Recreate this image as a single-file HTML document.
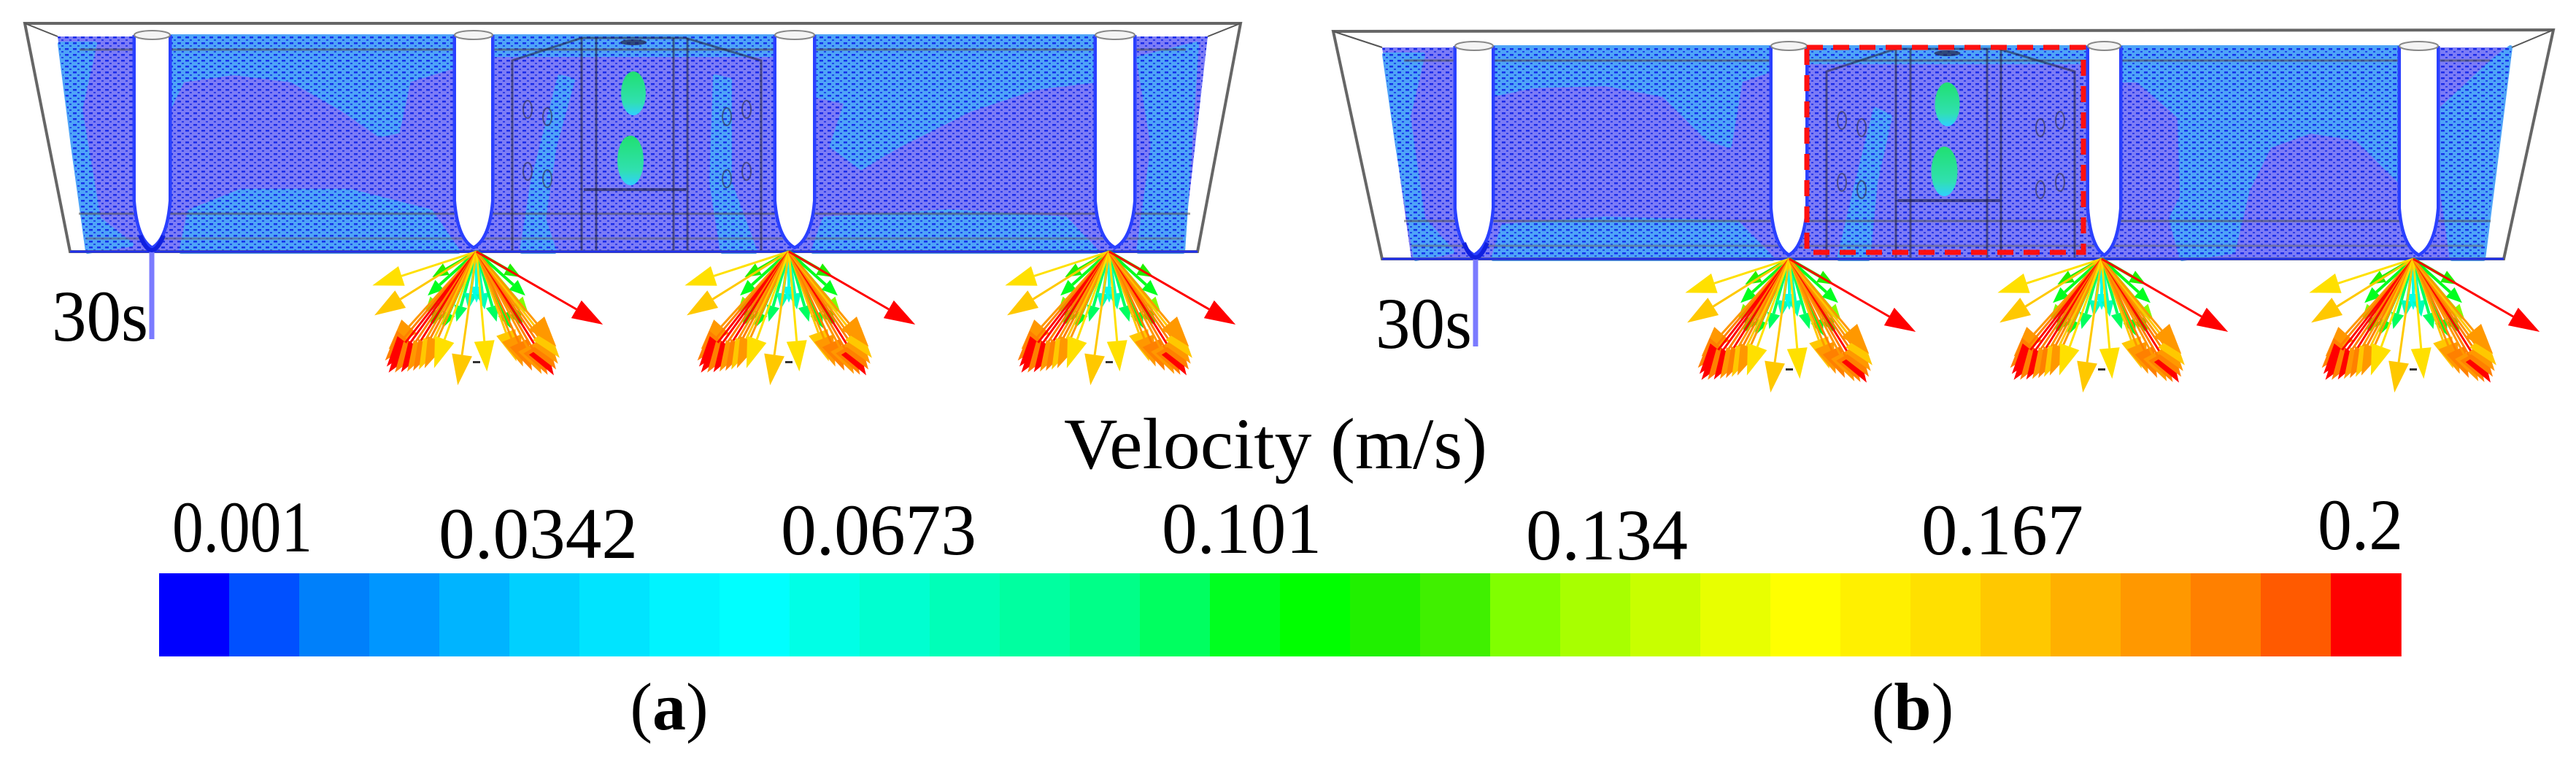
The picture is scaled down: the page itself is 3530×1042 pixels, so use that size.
<!DOCTYPE html>
<html><head><meta charset="utf-8"><style>
html,body{margin:0;padding:0;background:#fff;}
svg{display:block;}
</style></head><body>
<svg id="fig" width="3530" height="1042" viewBox="0 0 3530 1042" xmlns="http://www.w3.org/2000/svg" font-family="'Liberation Serif','DejaVu Serif',serif">
<defs>
<pattern id="dots" width="11" height="8" patternUnits="userSpaceOnUse">
<rect x="1" y="2" width="5" height="2.5" fill="#0a1ee8" opacity="0.85"/>
<rect x="7" y="6" width="3" height="2" fill="#0a1ee8" opacity="0.7"/>
</pattern>
<linearGradient id="blob" x1="0" y1="0" x2="0" y2="1">
<stop offset="0" stop-color="#20e070"/><stop offset="0.7" stop-color="#30e0b0"/><stop offset="1" stop-color="#30d0ff"/>
</linearGradient>
</defs>
<g id="panels"></g>
<g id="legend"></g>
</svg>
<script>
// Colorbar data
const barColors = ["#0000ff","#0050ff","#0080fa","#0096ff","#00b4ff","#00d0ff","#00e4ff","#00f4ff","#00ffff","#00ffe6","#00ffd0","#00ffb8","#00ffa0","#00ff88","#00ff60","#00ff20","#00ff00","#20f000","#40f000","#80ff00","#a8ff00","#c8ff00","#e8ff00","#ffff00","#fff000","#ffe000","#ffc800","#ffb000","#ff9800","#ff8000","#ff5a00","#ff0000"];
const tickLabels = ["0.001","0.0342","0.0673","0.101","0.134","0.167","0.2"];
const tickValues = [0.001,0.0342,0.0673,0.101,0.134,0.167,0.2];
// Arrow fan data (angle in deg from vertical, length px, speed m/s)
const fanAngles = [-72,-58,-42,-40,-38,-36,-34,-32,-30,-28,-26,-24,-20,-8,5,20,22,25,28,30,32,34,36,38,40,60];
const fanLengths = [150,165,180,195,200,205,200,195,190,185,180,175,170,185,165,160,170,180,190,195,200,195,190,185,170,200];
const fanSpeeds = [0.16,0.17,0.18,0.19,0.2,0.2,0.19,0.2,0.18,0.19,0.17,0.18,0.16,0.17,0.16,0.17,0.18,0.19,0.18,0.19,0.2,0.19,0.18,0.17,0.18,0.2];
const innerAngles = [-60,-48,-40,-32,-24,-16,-8,0,8,16,24,32,40,48,60];
const innerLengths = [70,90,110,120,115,100,80,70,80,100,115,120,110,90,70];
const innerSpeeds = [0.11,0.1,0.12,0.11,0.1,0.09,0.07,0.06,0.07,0.09,0.1,0.11,0.12,0.1,0.11];

const NS="http://www.w3.org/2000/svg";
function mk(tag,attrs,parent){const e=document.createElementNS(NS,tag);for(const k in attrs)e.setAttribute(k,attrs[k]);parent.appendChild(e);return e;}
function colorFor(v){const t=(v-0.001)/(0.2-0.001);let i=Math.round(t*(barColors.length-1));i=Math.max(0,Math.min(barColors.length-1,i));return barColors[i];}
function pts(a){return a.map(p=>p.join(',')).join(' ');}
const FONT="'Liberation Serif','DejaVu Serif',serif";

const panels=document.getElementById('panels');
function drawPanel(p,label){
  const g=mk('g',{},panels);
  
  
  const f=mk('polygon',{points:pts(p.flow),fill:'#7c7cf6'},g);
  
  
  p.patches.forEach(pt=>{mk('polygon',{points:pts(pt),fill:'#4ea4f8','stroke':'#4ea4f8','stroke-width':6,'stroke-linejoin':'round'},g);});
  mk('polygon',{points:pts(p.flow),fill:'url(#dots)'},g);
  mk('line',{x1:p.flow[0][0]+30,y1:p.top+18,x2:p.flow[1][0]-30,y2:p.top+18,stroke:'#555','stroke-width':3,opacity:0.6},g);
  mk('line',{x1:p.flow[3][0]-10,y1:p.bot-52,x2:p.flow[2][0]+10,y2:p.bot-52,stroke:'#555','stroke-width':3,opacity:0.6},g);
  mk('line',{x1:p.flow[3][0],y1:p.bot-18,x2:p.flow[2][0],y2:p.bot-18,stroke:'#666','stroke-width':3,opacity:0.5},g);
  const [cx0,cx1]=p.box;
  mk('path',{d:`M${cx0+29},${p.bot} L${cx0+29},${p.top+33} L${cx0+124},${p.top+2} L${cx1-124},${p.top+2} L${cx1-20},${p.top+33} L${cx1-20},${p.bot}`,stroke:'#223',fill:'none','stroke-width':3,opacity:0.55},g);
  [124,144].forEach(o=>mk('line',{x1:cx0+o,y1:p.top+2,x2:cx0+o,y2:p.bot,stroke:'#223','stroke-width':3,opacity:0.55},g));
  [140,121].forEach(o=>mk('line',{x1:cx1-o,y1:p.top+2,x2:cx1-o,y2:p.bot,stroke:'#223','stroke-width':3,opacity:0.55},g));
  [[50,120],[77,130],[50,205],[77,215]].forEach(([dx,dy])=>{
    mk('ellipse',{cx:cx0+dx,cy:p.top+dy-20,rx:6,ry:12,fill:'none',stroke:'#334','stroke-width':2,opacity:0.6},g);
    mk('ellipse',{cx:cx1-dx+10,cy:p.top+dy-20,rx:6,ry:12,fill:'none',stroke:'#334','stroke-width':2,opacity:0.6},g);
  });
  const bx=(cx0+cx1)/2;
  mk('ellipse',{cx:bx,cy:p.top+78,rx:17,ry:30,fill:'url(#blob)'},g);
  mk('ellipse',{cx:bx-4,cy:p.top+170,rx:18,ry:34,fill:'url(#blob)'},g);
  mk('line',{x1:bx-68,y1:p.top+210,x2:bx+72,y2:p.top+210,stroke:'#224',"stroke-width":4,opacity:0.6},g);
  mk('ellipse',{cx:bx,cy:p.top+8,rx:18,ry:4,fill:'#224',opacity:0.7},g);
  p.pillars.forEach(([a,b],i)=>{
    const pl=mk('g',{},g);
    
    
    const m=(a+b)/2;
    mk('path',{d:`M${a},${p.top-2} L${a},${p.bot-70} Q${a+4},${p.bot-20} ${m},${p.bot-8} Q${b-4},${p.bot-20} ${b},${p.bot-70} L${b},${p.top-2}`,fill:'none',stroke:'#2a40ff','stroke-width':9},pl);
    mk('path',{d:`M${a},${p.top-2} L${b},${p.top-2} L${b},${p.bot-70} Q${b-4},${p.bot-20} ${m},${p.bot-8} Q${a+4},${p.bot-20} ${a},${p.bot-70} Z`,fill:'#fff'},pl);
    mk('ellipse',{cx:m,cy:p.top-2,rx:(b-a)/2+2,ry:6,fill:'#f4f4f4',stroke:'#888','stroke-width':2},pl);
  });
  const fr=mk('path',{d:`M${p.frame[0].join(',')} L${p.frame[1].join(',')} L${p.frame[2].join(',')} L${p.frame[3].join(',')} Z`,fill:'none',stroke:'#666','stroke-width':4},g);
  
  
  mk('line',{x1:p.frame[0][0],y1:p.frame[0][1],x2:p.flow[0][0],y2:p.top,stroke:'#555','stroke-width':2},g);
  mk('line',{x1:p.frame[1][0],y1:p.frame[1][1],x2:p.flow[1][0],y2:p.top,stroke:'#555','stroke-width':2},g);
  mk('line',{x1:p.frame[3][0],y1:p.bot,x2:p.frame[2][0],y2:p.bot,stroke:'#2030f0','stroke-width':3},g);
  mk('line',{x1:p.inlet,y1:p.bot,x2:p.inlet,y2:p.bot+120,stroke:'#7b7bff','stroke-width':7},g);
  mk('path',{d:`M${p.inlet-16},${p.bot-22} Q${p.inlet},${p.bot+18} ${p.inlet+16},${p.bot-22}`,stroke:'#1020e0','stroke-width':6,fill:'none'},g);
  const t=mk('text',{x:p.inlet-137,y:p.bot+122,'font-size':100,'font-family':FONT,textLength:132,lengthAdjust:'spacingAndGlyphs'},g);
  t.textContent='30s';
  
  
  if(p.dashed){
    const r=mk('rect',{x:p.dashed[0],y:p.dashed[1],width:p.dashed[2],height:p.dashed[3],fill:'none',stroke:'#ff1010','stroke-width':7,'stroke-dasharray':'22,14'},g);
    
    
  }
  p.fans.forEach((ox,fi)=>{
    const fg=mk('g',{},g);
    
    
    const oy=p.bot;
    function arrow(ang,len,spd,w,hl,hw){
      const r=ang*Math.PI/180, dx=Math.sin(r), dy=Math.cos(r);
      const tx=ox+dx*len, ty=oy+dy*len, c=colorFor(spd);
      const bxp=tx-dx*hl, byp=ty-dy*hl;
      mk('line',{x1:ox,y1:oy,x2:bxp,y2:byp,stroke:c,'stroke-width':w},fg);
      mk('polygon',{points:`${tx},${ty} ${bxp-dy*hw},${byp+dx*hw} ${bxp+dy*hw},${byp-dx*hw}`,fill:c},fg);
    }
    innerAngles.forEach((a,i)=>arrow(a,innerLengths[i],innerSpeeds[i],4,22,9));
    fanAngles.forEach((a,i)=>arrow(a,fanLengths[i],fanSpeeds[i],3,42,14));
    mk('rect',{x:ox-5,y:oy+150,width:10,height:3,fill:'#333'},fg);
  });
}
drawPanel({
  top:50,bot:345,
  flow:[[79,50],[1655,50],[1621,345],[118,345]],
  frame:[[34,32],[1700,32],[1641,345],[96,345]],
  patches:[
    [[82,60],[130,60],[110,150],[135,300],[180,335],[120,345],[100,200]],
    [[231,50],[625,50],[625,90],[560,110],[545,180],[520,185],[470,150],[400,110],[320,100],[250,110],[231,150]],
    [[248,345],[260,290],[330,262],[480,262],[590,290],[628,345]],
    [[673,50],[1064,50],[1064,75],[673,75]],
    [[767,105],[785,110],[760,200],[745,300],[760,345],[715,345],[730,250]],
    [[980,105],[1000,110],[1000,250],[1035,345],[990,345],[975,250]],
    [[1114,50],[1503,50],[1503,110],[1420,120],[1330,150],[1230,200],[1180,230],[1140,200],[1160,140],[1114,130]],
    [[1114,345],[1130,300],[1300,290],[1460,300],[1503,345]],
    [[1560,80],[1640,60],[1621,345],[1560,345],[1580,200]]
  ],
  pillars:[[186,231],[625,673],[1064,1114],[1503,1553]],
  box:[673,1063],
  inlet:208,
  fans:[653,1081,1520]
},'a');
drawPanel({
  top:65,bot:355,
  flow:[[1894,65],[3442,65],[3403,355],[1934,355]],
  frame:[[1827,43],[3499,41],[3431,355],[1894,355]],
  patches:[
    [[1897,75],[1950,75],[1930,160],[1950,300],[1990,345],[1940,355],[1915,200]],
    [[2044,65],[2429,65],[2429,95],[2385,110],[2370,200],[2340,190],[2280,130],[2200,115],[2100,118],[2044,130]],
    [[2046,355],[2060,310],[2200,300],[2380,305],[2429,355]],
    [[2474,65],[2863,65],[2863,85],[2474,85]],
    [[2570,150],[2590,160],[2570,250],[2560,355],[2520,355],[2545,250]],
    [[2904,65],[3290,65],[3290,250],[3270,230],[3230,190],[3166,180],[3110,200],[3080,260],[3060,345],[2990,355],[2975,300],[2990,270],[2987,160],[2930,110],[2904,110]],
    [[3345,150],[3420,80],[3440,65],[3403,355],[3360,355],[3345,250]]
  ],
  pillars:[[1996,2044],[2429,2474],[2863,2904],[3290,3339]],
  box:[2474,2863],
  inlet:2022,
  dashed:[2476,65,379,281],
  fans:[2452,2880,3307]
},'b');

const leg=document.getElementById('legend');
const barX0=218, barX1=3290, barY=786, barH=114;
const cw=(barX1-barX0)/barColors.length;
barColors.forEach((c,i)=>{
  const r=mk('rect',{x:barX0+i*cw,y:barY,width:cw+0.8,height:barH,fill:c},leg);
  
  
});
const tickX=[236,601,1070,1592,2091,2633,3176];
const tickW=[192,273,268,219,222,222,117];
const tickY=[756,765,760,758,767,760,753];
tickLabels.forEach((s,i)=>{
  const t=mk('text',{x:tickX[i],y:tickY[i],'font-size':100,'font-family':FONT,textLength:tickW[i],lengthAdjust:'spacingAndGlyphs'},leg);
  t.textContent=s;
  
  
});
const title=mk('text',{x:1458,y:642,'font-size':100,'font-family':FONT,textLength:580,lengthAdjust:'spacingAndGlyphs'},leg);
title.textContent='Velocity (m/s)';


[['a',917],['b',2621]].forEach(([s,x])=>{
  const t=mk('text',{x:x,y:1000,'font-size':92,'font-family':FONT,'text-anchor':'middle'},leg);
  
  
  t.appendChild(document.createTextNode('('));
  const b=mk('tspan',{'font-weight':'bold'},t);
  b.textContent=s;
  t.appendChild(document.createTextNode(')'));
});
</script>
</body></html>
